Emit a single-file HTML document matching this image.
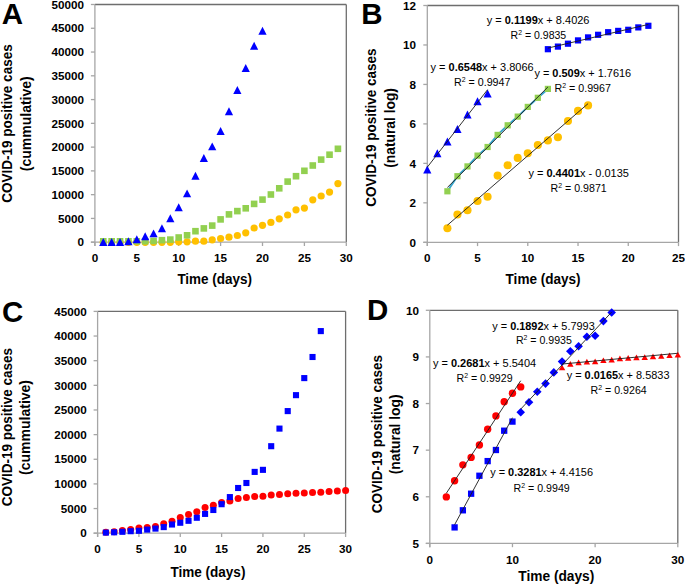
<!DOCTYPE html><html><head><meta charset="utf-8"><style>html,body{margin:0;padding:0;background:#fff;}svg{display:block;}text{font-family:"Liberation Sans", sans-serif;fill:#000;}</style></head><body>
<svg width="685" height="585" viewBox="0 0 685 585">
<rect width="685" height="585" fill="#fff"/>
<line x1="94.90" y1="4.50" x2="346.30" y2="4.50" stroke="#6e6e6e" stroke-width="1.3"/>
<line x1="346.30" y1="4.50" x2="346.30" y2="242.20" stroke="#6e6e6e" stroke-width="1.3"/>
<line x1="94.90" y1="4.50" x2="94.90" y2="246.00" stroke="#a6a6a6" stroke-width="1.3"/>
<line x1="90.90" y1="242.20" x2="346.30" y2="242.20" stroke="#a6a6a6" stroke-width="1.3"/>
<line x1="90.90" y1="242.20" x2="94.90" y2="242.20" stroke="#a6a6a6" stroke-width="1.3"/>
<line x1="90.90" y1="218.43" x2="94.90" y2="218.43" stroke="#a6a6a6" stroke-width="1.3"/>
<line x1="90.90" y1="194.66" x2="94.90" y2="194.66" stroke="#a6a6a6" stroke-width="1.3"/>
<line x1="90.90" y1="170.89" x2="94.90" y2="170.89" stroke="#a6a6a6" stroke-width="1.3"/>
<line x1="90.90" y1="147.12" x2="94.90" y2="147.12" stroke="#a6a6a6" stroke-width="1.3"/>
<line x1="90.90" y1="123.35" x2="94.90" y2="123.35" stroke="#a6a6a6" stroke-width="1.3"/>
<line x1="90.90" y1="99.58" x2="94.90" y2="99.58" stroke="#a6a6a6" stroke-width="1.3"/>
<line x1="90.90" y1="75.81" x2="94.90" y2="75.81" stroke="#a6a6a6" stroke-width="1.3"/>
<line x1="90.90" y1="52.04" x2="94.90" y2="52.04" stroke="#a6a6a6" stroke-width="1.3"/>
<line x1="90.90" y1="28.27" x2="94.90" y2="28.27" stroke="#a6a6a6" stroke-width="1.3"/>
<line x1="90.90" y1="4.50" x2="94.90" y2="4.50" stroke="#a6a6a6" stroke-width="1.3"/>
<line x1="94.90" y1="242.20" x2="94.90" y2="246.00" stroke="#a6a6a6" stroke-width="1.3"/>
<line x1="136.80" y1="242.20" x2="136.80" y2="246.00" stroke="#a6a6a6" stroke-width="1.3"/>
<line x1="178.70" y1="242.20" x2="178.70" y2="246.00" stroke="#a6a6a6" stroke-width="1.3"/>
<line x1="220.60" y1="242.20" x2="220.60" y2="246.00" stroke="#a6a6a6" stroke-width="1.3"/>
<line x1="262.50" y1="242.20" x2="262.50" y2="246.00" stroke="#a6a6a6" stroke-width="1.3"/>
<line x1="304.40" y1="242.20" x2="304.40" y2="246.00" stroke="#a6a6a6" stroke-width="1.3"/>
<line x1="346.30" y1="242.20" x2="346.30" y2="246.00" stroke="#a6a6a6" stroke-width="1.3"/>
<text x="83.90" y="246.40" font-size="10" font-weight="bold" text-anchor="end" textLength="6.50" lengthAdjust="spacingAndGlyphs">0</text>
<text x="83.90" y="222.63" font-size="10" font-weight="bold" text-anchor="end" textLength="26.00" lengthAdjust="spacingAndGlyphs">5000</text>
<text x="83.90" y="198.86" font-size="10" font-weight="bold" text-anchor="end" textLength="32.50" lengthAdjust="spacingAndGlyphs">10000</text>
<text x="83.90" y="175.09" font-size="10" font-weight="bold" text-anchor="end" textLength="32.50" lengthAdjust="spacingAndGlyphs">15000</text>
<text x="83.90" y="151.32" font-size="10" font-weight="bold" text-anchor="end" textLength="32.50" lengthAdjust="spacingAndGlyphs">20000</text>
<text x="83.90" y="127.55" font-size="10" font-weight="bold" text-anchor="end" textLength="32.50" lengthAdjust="spacingAndGlyphs">25000</text>
<text x="83.90" y="103.78" font-size="10" font-weight="bold" text-anchor="end" textLength="32.50" lengthAdjust="spacingAndGlyphs">30000</text>
<text x="83.90" y="80.01" font-size="10" font-weight="bold" text-anchor="end" textLength="32.50" lengthAdjust="spacingAndGlyphs">35000</text>
<text x="83.90" y="56.24" font-size="10" font-weight="bold" text-anchor="end" textLength="32.50" lengthAdjust="spacingAndGlyphs">40000</text>
<text x="83.90" y="32.47" font-size="10" font-weight="bold" text-anchor="end" textLength="32.50" lengthAdjust="spacingAndGlyphs">45000</text>
<text x="83.90" y="8.70" font-size="10" font-weight="bold" text-anchor="end" textLength="32.50" lengthAdjust="spacingAndGlyphs">50000</text>
<text x="94.90" y="262.20" font-size="10" font-weight="bold" text-anchor="middle" textLength="6.50" lengthAdjust="spacingAndGlyphs">0</text>
<text x="136.80" y="262.20" font-size="10" font-weight="bold" text-anchor="middle" textLength="6.50" lengthAdjust="spacingAndGlyphs">5</text>
<text x="178.70" y="262.20" font-size="10" font-weight="bold" text-anchor="middle" textLength="13.00" lengthAdjust="spacingAndGlyphs">10</text>
<text x="220.60" y="262.20" font-size="10" font-weight="bold" text-anchor="middle" textLength="13.00" lengthAdjust="spacingAndGlyphs">15</text>
<text x="262.50" y="262.20" font-size="10" font-weight="bold" text-anchor="middle" textLength="13.00" lengthAdjust="spacingAndGlyphs">20</text>
<text x="304.40" y="262.20" font-size="10" font-weight="bold" text-anchor="middle" textLength="13.00" lengthAdjust="spacingAndGlyphs">25</text>
<text x="346.30" y="262.20" font-size="10" font-weight="bold" text-anchor="middle" textLength="13.00" lengthAdjust="spacingAndGlyphs">30</text>
<text x="1.80" y="24.30" font-size="29.5" font-weight="bold" text-anchor="start">A</text>
<text transform="translate(12.30 123.50) rotate(-90)" font-size="14" font-weight="bold" text-anchor="middle" textLength="158.3" lengthAdjust="spacingAndGlyphs">COVID-19 positive cases</text>
<text transform="translate(31.00 123.75) rotate(-90)" font-size="14" font-weight="bold" text-anchor="middle" textLength="95.0" lengthAdjust="spacingAndGlyphs">(cummulative)</text>
<text x="214.70" y="283.90" font-size="14" font-weight="bold" text-anchor="middle" textLength="74.60" lengthAdjust="spacingAndGlyphs">Time (days)</text>
<circle cx="103.28" cy="242.30" r="3.60" fill="#ffc000"/>
<circle cx="111.66" cy="242.30" r="3.60" fill="#ffc000"/>
<circle cx="120.04" cy="242.30" r="3.60" fill="#ffc000"/>
<circle cx="128.42" cy="242.30" r="3.60" fill="#ffc000"/>
<circle cx="136.80" cy="242.30" r="3.60" fill="#ffc000"/>
<circle cx="145.18" cy="242.30" r="3.60" fill="#ffc000"/>
<circle cx="153.56" cy="242.30" r="3.60" fill="#ffc000"/>
<circle cx="161.94" cy="242.30" r="3.60" fill="#ffc000"/>
<circle cx="170.32" cy="242.30" r="3.60" fill="#ffc000"/>
<circle cx="178.70" cy="241.80" r="3.60" fill="#ffc000"/>
<circle cx="187.08" cy="241.80" r="3.60" fill="#ffc000"/>
<circle cx="195.46" cy="241.20" r="3.60" fill="#ffc000"/>
<circle cx="203.84" cy="241.20" r="3.60" fill="#ffc000"/>
<circle cx="212.22" cy="239.80" r="3.60" fill="#ffc000"/>
<circle cx="220.60" cy="238.50" r="3.60" fill="#ffc000"/>
<circle cx="228.98" cy="237.20" r="3.60" fill="#ffc000"/>
<circle cx="237.36" cy="235.50" r="3.60" fill="#ffc000"/>
<circle cx="245.74" cy="232.80" r="3.60" fill="#ffc000"/>
<circle cx="254.12" cy="228.00" r="3.60" fill="#ffc000"/>
<circle cx="262.50" cy="225.30" r="3.60" fill="#ffc000"/>
<circle cx="270.88" cy="222.40" r="3.60" fill="#ffc000"/>
<circle cx="279.26" cy="218.80" r="3.60" fill="#ffc000"/>
<circle cx="287.64" cy="215.00" r="3.60" fill="#ffc000"/>
<circle cx="296.02" cy="209.80" r="3.60" fill="#ffc000"/>
<circle cx="304.40" cy="208.10" r="3.60" fill="#ffc000"/>
<circle cx="312.78" cy="199.80" r="3.60" fill="#ffc000"/>
<circle cx="321.16" cy="196.00" r="3.60" fill="#ffc000"/>
<circle cx="329.54" cy="192.10" r="3.60" fill="#ffc000"/>
<circle cx="337.92" cy="183.60" r="3.60" fill="#ffc000"/>
<rect x="99.98" y="238.00" width="6.60" height="6.60" fill="#92d050"/>
<rect x="108.36" y="238.00" width="6.60" height="6.60" fill="#92d050"/>
<rect x="116.74" y="238.00" width="6.60" height="6.60" fill="#92d050"/>
<rect x="125.12" y="238.00" width="6.60" height="6.60" fill="#92d050"/>
<rect x="133.50" y="238.00" width="6.60" height="6.60" fill="#92d050"/>
<rect x="141.88" y="238.00" width="6.60" height="6.60" fill="#92d050"/>
<rect x="150.26" y="237.60" width="6.60" height="6.60" fill="#92d050"/>
<rect x="158.64" y="236.90" width="6.60" height="6.60" fill="#92d050"/>
<rect x="167.02" y="236.30" width="6.60" height="6.60" fill="#92d050"/>
<rect x="175.40" y="234.20" width="6.60" height="6.60" fill="#92d050"/>
<rect x="183.78" y="232.00" width="6.60" height="6.60" fill="#92d050"/>
<rect x="192.16" y="227.90" width="6.60" height="6.60" fill="#92d050"/>
<rect x="200.54" y="225.10" width="6.60" height="6.60" fill="#92d050"/>
<rect x="208.92" y="222.30" width="6.60" height="6.60" fill="#92d050"/>
<rect x="217.30" y="216.10" width="6.60" height="6.60" fill="#92d050"/>
<rect x="225.68" y="211.10" width="6.60" height="6.60" fill="#92d050"/>
<rect x="234.06" y="207.80" width="6.60" height="6.60" fill="#92d050"/>
<rect x="242.44" y="205.00" width="6.60" height="6.60" fill="#92d050"/>
<rect x="250.82" y="200.60" width="6.60" height="6.60" fill="#92d050"/>
<rect x="259.20" y="196.30" width="6.60" height="6.60" fill="#92d050"/>
<rect x="267.58" y="191.20" width="6.60" height="6.60" fill="#92d050"/>
<rect x="275.96" y="185.00" width="6.60" height="6.60" fill="#92d050"/>
<rect x="284.34" y="178.30" width="6.60" height="6.60" fill="#92d050"/>
<rect x="292.72" y="172.90" width="6.60" height="6.60" fill="#92d050"/>
<rect x="301.10" y="167.50" width="6.60" height="6.60" fill="#92d050"/>
<rect x="309.48" y="162.20" width="6.60" height="6.60" fill="#92d050"/>
<rect x="317.86" y="156.30" width="6.60" height="6.60" fill="#92d050"/>
<rect x="326.24" y="151.40" width="6.60" height="6.60" fill="#92d050"/>
<rect x="334.62" y="145.50" width="6.60" height="6.60" fill="#92d050"/>
<path d="M99.18 245.95L103.28 238.05L107.38 245.95Z" fill="#0000ff"/>
<path d="M107.56 245.95L111.66 238.05L115.76 245.95Z" fill="#0000ff"/>
<path d="M115.94 245.95L120.04 238.05L124.14 245.95Z" fill="#0000ff"/>
<path d="M124.32 245.15L128.42 237.25L132.52 245.15Z" fill="#0000ff"/>
<path d="M132.70 243.25L136.80 235.35L140.90 243.25Z" fill="#0000ff"/>
<path d="M141.08 240.25L145.18 232.35L149.28 240.25Z" fill="#0000ff"/>
<path d="M149.46 237.35L153.56 229.45L157.66 237.35Z" fill="#0000ff"/>
<path d="M157.84 232.15L161.94 224.25L166.04 232.15Z" fill="#0000ff"/>
<path d="M166.22 222.15L170.32 214.25L174.42 222.15Z" fill="#0000ff"/>
<path d="M174.60 211.15L178.70 203.25L182.80 211.15Z" fill="#0000ff"/>
<path d="M182.98 197.35L187.08 189.45L191.18 197.35Z" fill="#0000ff"/>
<path d="M191.36 179.75L195.46 171.85L199.56 179.75Z" fill="#0000ff"/>
<path d="M199.74 161.95L203.84 154.05L207.94 161.95Z" fill="#0000ff"/>
<path d="M208.12 150.35L212.22 142.45L216.32 150.35Z" fill="#0000ff"/>
<path d="M216.50 134.95L220.60 127.05L224.70 134.95Z" fill="#0000ff"/>
<path d="M224.88 115.25L228.98 107.35L233.08 115.25Z" fill="#0000ff"/>
<path d="M233.26 93.95L237.36 86.05L241.46 93.95Z" fill="#0000ff"/>
<path d="M241.64 71.95L245.74 64.05L249.84 71.95Z" fill="#0000ff"/>
<path d="M250.02 49.65L254.12 41.75L258.22 49.65Z" fill="#0000ff"/>
<path d="M258.40 34.75L262.50 26.85L266.60 34.75Z" fill="#0000ff"/>
<line x1="427.30" y1="5.50" x2="678.50" y2="5.50" stroke="#6e6e6e" stroke-width="1.3"/>
<line x1="678.50" y1="5.50" x2="678.50" y2="242.30" stroke="#6e6e6e" stroke-width="1.3"/>
<line x1="427.30" y1="5.50" x2="427.30" y2="246.10" stroke="#a6a6a6" stroke-width="1.3"/>
<line x1="423.30" y1="242.30" x2="678.50" y2="242.30" stroke="#a6a6a6" stroke-width="1.3"/>
<line x1="423.30" y1="242.30" x2="427.30" y2="242.30" stroke="#a6a6a6" stroke-width="1.3"/>
<line x1="423.30" y1="202.83" x2="427.30" y2="202.83" stroke="#a6a6a6" stroke-width="1.3"/>
<line x1="423.30" y1="163.37" x2="427.30" y2="163.37" stroke="#a6a6a6" stroke-width="1.3"/>
<line x1="423.30" y1="123.90" x2="427.30" y2="123.90" stroke="#a6a6a6" stroke-width="1.3"/>
<line x1="423.30" y1="84.43" x2="427.30" y2="84.43" stroke="#a6a6a6" stroke-width="1.3"/>
<line x1="423.30" y1="44.97" x2="427.30" y2="44.97" stroke="#a6a6a6" stroke-width="1.3"/>
<line x1="423.30" y1="5.50" x2="427.30" y2="5.50" stroke="#a6a6a6" stroke-width="1.3"/>
<line x1="427.30" y1="242.30" x2="427.30" y2="246.10" stroke="#a6a6a6" stroke-width="1.3"/>
<line x1="477.54" y1="242.30" x2="477.54" y2="246.10" stroke="#a6a6a6" stroke-width="1.3"/>
<line x1="527.78" y1="242.30" x2="527.78" y2="246.10" stroke="#a6a6a6" stroke-width="1.3"/>
<line x1="578.02" y1="242.30" x2="578.02" y2="246.10" stroke="#a6a6a6" stroke-width="1.3"/>
<line x1="628.26" y1="242.30" x2="628.26" y2="246.10" stroke="#a6a6a6" stroke-width="1.3"/>
<line x1="678.50" y1="242.30" x2="678.50" y2="246.10" stroke="#a6a6a6" stroke-width="1.3"/>
<text x="416.10" y="246.50" font-size="10" font-weight="bold" text-anchor="end" textLength="6.50" lengthAdjust="spacingAndGlyphs">0</text>
<text x="416.10" y="207.03" font-size="10" font-weight="bold" text-anchor="end" textLength="6.50" lengthAdjust="spacingAndGlyphs">2</text>
<text x="416.10" y="167.57" font-size="10" font-weight="bold" text-anchor="end" textLength="6.50" lengthAdjust="spacingAndGlyphs">4</text>
<text x="416.10" y="128.10" font-size="10" font-weight="bold" text-anchor="end" textLength="6.50" lengthAdjust="spacingAndGlyphs">6</text>
<text x="416.10" y="88.63" font-size="10" font-weight="bold" text-anchor="end" textLength="6.50" lengthAdjust="spacingAndGlyphs">8</text>
<text x="416.10" y="49.17" font-size="10" font-weight="bold" text-anchor="end" textLength="13.00" lengthAdjust="spacingAndGlyphs">10</text>
<text x="416.10" y="9.70" font-size="10" font-weight="bold" text-anchor="end" textLength="13.00" lengthAdjust="spacingAndGlyphs">12</text>
<text x="427.30" y="262.00" font-size="10" font-weight="bold" text-anchor="middle" textLength="6.50" lengthAdjust="spacingAndGlyphs">0</text>
<text x="477.54" y="262.00" font-size="10" font-weight="bold" text-anchor="middle" textLength="6.50" lengthAdjust="spacingAndGlyphs">5</text>
<text x="527.78" y="262.00" font-size="10" font-weight="bold" text-anchor="middle" textLength="13.00" lengthAdjust="spacingAndGlyphs">10</text>
<text x="578.02" y="262.00" font-size="10" font-weight="bold" text-anchor="middle" textLength="13.00" lengthAdjust="spacingAndGlyphs">15</text>
<text x="628.26" y="262.00" font-size="10" font-weight="bold" text-anchor="middle" textLength="13.00" lengthAdjust="spacingAndGlyphs">20</text>
<text x="678.50" y="262.00" font-size="10" font-weight="bold" text-anchor="middle" textLength="13.00" lengthAdjust="spacingAndGlyphs">25</text>
<text x="361.30" y="24.20" font-size="29.5" font-weight="bold" text-anchor="start">B</text>
<text transform="translate(376.40 127.70) rotate(-90)" font-size="14" font-weight="bold" text-anchor="middle" textLength="158.3" lengthAdjust="spacingAndGlyphs">COVID-19 positive cases</text>
<text transform="translate(394.60 127.95) rotate(-90)" font-size="14" font-weight="bold" text-anchor="middle" textLength="79.8" lengthAdjust="spacingAndGlyphs">(natural log)</text>
<text x="543.10" y="284.30" font-size="14" font-weight="bold" text-anchor="middle" textLength="75.00" lengthAdjust="spacingAndGlyphs">Time (days)</text>
<polyline points="447.40,191.30 457.44,176.20 467.49,166.40 477.54,155.60 487.59,147.00 497.64,134.90 507.68,125.30 517.73,116.60 527.78,106.90 537.83,97.80 547.88,88.90" fill="none" stroke="#3aa6cc" stroke-width="2"/>
<circle cx="447.40" cy="228.30" r="4.05" fill="#ffc000"/>
<circle cx="457.44" cy="214.50" r="4.05" fill="#ffc000"/>
<circle cx="467.49" cy="210.20" r="4.05" fill="#ffc000"/>
<circle cx="477.54" cy="201.00" r="4.05" fill="#ffc000"/>
<circle cx="487.59" cy="196.80" r="4.05" fill="#ffc000"/>
<circle cx="497.64" cy="175.60" r="4.05" fill="#ffc000"/>
<circle cx="507.68" cy="165.20" r="4.05" fill="#ffc000"/>
<circle cx="517.73" cy="157.90" r="4.05" fill="#ffc000"/>
<circle cx="527.78" cy="153.30" r="4.05" fill="#ffc000"/>
<circle cx="537.83" cy="145.00" r="4.05" fill="#ffc000"/>
<circle cx="547.88" cy="140.40" r="4.05" fill="#ffc000"/>
<circle cx="557.92" cy="137.30" r="4.05" fill="#ffc000"/>
<circle cx="567.97" cy="121.00" r="4.05" fill="#ffc000"/>
<circle cx="578.02" cy="110.90" r="4.05" fill="#ffc000"/>
<circle cx="588.07" cy="105.40" r="4.05" fill="#ffc000"/>
<rect x="444.30" y="188.20" width="6.20" height="6.20" fill="#92d050"/>
<rect x="454.34" y="173.10" width="6.20" height="6.20" fill="#92d050"/>
<rect x="464.39" y="163.30" width="6.20" height="6.20" fill="#92d050"/>
<rect x="474.44" y="152.50" width="6.20" height="6.20" fill="#92d050"/>
<rect x="484.49" y="143.90" width="6.20" height="6.20" fill="#92d050"/>
<rect x="494.54" y="131.80" width="6.20" height="6.20" fill="#92d050"/>
<rect x="504.58" y="122.20" width="6.20" height="6.20" fill="#92d050"/>
<rect x="514.63" y="113.50" width="6.20" height="6.20" fill="#92d050"/>
<rect x="524.68" y="103.80" width="6.20" height="6.20" fill="#92d050"/>
<rect x="534.73" y="94.70" width="6.20" height="6.20" fill="#92d050"/>
<rect x="544.78" y="85.80" width="6.20" height="6.20" fill="#92d050"/>
<path d="M423.20 173.60L427.30 165.60L431.40 173.60Z" fill="#0000ff"/>
<path d="M433.25 157.30L437.35 149.30L441.45 157.30Z" fill="#0000ff"/>
<path d="M443.30 145.40L447.40 137.40L451.50 145.40Z" fill="#0000ff"/>
<path d="M453.34 132.90L457.44 124.90L461.54 132.90Z" fill="#0000ff"/>
<path d="M463.39 118.50L467.49 110.50L471.59 118.50Z" fill="#0000ff"/>
<path d="M473.44 105.20L477.54 97.20L481.64 105.20Z" fill="#0000ff"/>
<path d="M483.49 97.40L487.59 89.40L491.69 97.40Z" fill="#0000ff"/>
<rect x="544.78" y="46.10" width="6.20" height="6.20" fill="#0000ff"/>
<rect x="554.82" y="43.50" width="6.20" height="6.20" fill="#0000ff"/>
<rect x="564.87" y="40.60" width="6.20" height="6.20" fill="#0000ff"/>
<rect x="574.92" y="37.30" width="6.20" height="6.20" fill="#0000ff"/>
<rect x="584.97" y="34.30" width="6.20" height="6.20" fill="#0000ff"/>
<rect x="595.02" y="31.70" width="6.20" height="6.20" fill="#0000ff"/>
<rect x="605.06" y="29.10" width="6.20" height="6.20" fill="#0000ff"/>
<rect x="615.11" y="27.80" width="6.20" height="6.20" fill="#0000ff"/>
<rect x="625.16" y="26.70" width="6.20" height="6.20" fill="#0000ff"/>
<rect x="635.21" y="24.30" width="6.20" height="6.20" fill="#0000ff"/>
<rect x="645.26" y="22.70" width="6.20" height="6.20" fill="#0000ff"/>
<line x1="427.30" y1="167.18" x2="487.59" y2="89.65" stroke="#1a1a1a" stroke-width="0.9"/>
<line x1="447.40" y1="187.45" x2="547.88" y2="87.01" stroke="#1a1a1a" stroke-width="0.9"/>
<line x1="447.40" y1="225.20" x2="588.07" y2="103.61" stroke="#1a1a1a" stroke-width="0.9"/>
<line x1="547.88" y1="48.10" x2="648.36" y2="24.44" stroke="#1a1a1a" stroke-width="0.9"/>
<text x="486.70" y="24.00" font-size="10.5" textLength="102.80" lengthAdjust="spacingAndGlyphs">y = <tspan font-weight="bold">0.1199</tspan>x + 8.4026</text>
<text x="510.60" y="38.50" font-size="10.5" textLength="55.60" lengthAdjust="spacingAndGlyphs">R<tspan font-size="6.83" dy="-4">2</tspan><tspan dy="4"> = 0.9835</tspan></text>
<text x="430.60" y="71.10" font-size="10.5" textLength="103.00" lengthAdjust="spacingAndGlyphs">y = <tspan font-weight="bold">0.6548</tspan>x + 3.8066</text>
<text x="453.90" y="85.60" font-size="10.5" textLength="56.60" lengthAdjust="spacingAndGlyphs">R<tspan font-size="6.83" dy="-4">2</tspan><tspan dy="4"> = 0.9947</tspan></text>
<text x="534.40" y="77.00" font-size="10.5" textLength="96.80" lengthAdjust="spacingAndGlyphs">y = <tspan font-weight="bold">0.509</tspan>x + 1.7616</text>
<text x="554.50" y="92.40" font-size="10.5" textLength="56.40" lengthAdjust="spacingAndGlyphs">R<tspan font-size="6.83" dy="-4">2</tspan><tspan dy="4"> = 0.9967</tspan></text>
<text x="528.40" y="177.00" font-size="10.5" textLength="100.50" lengthAdjust="spacingAndGlyphs">y = <tspan font-weight="bold">0.4401</tspan>x - 0.0135</text>
<text x="550.60" y="191.50" font-size="10.5" textLength="56.10" lengthAdjust="spacingAndGlyphs">R<tspan font-size="6.83" dy="-4">2</tspan><tspan dy="4"> = 0.9871</tspan></text>
<line x1="97.60" y1="311.40" x2="345.60" y2="311.40" stroke="#6e6e6e" stroke-width="1.3"/>
<line x1="345.60" y1="311.40" x2="345.60" y2="533.20" stroke="#6e6e6e" stroke-width="1.3"/>
<line x1="97.60" y1="311.40" x2="97.60" y2="537.00" stroke="#a6a6a6" stroke-width="1.3"/>
<line x1="93.60" y1="533.20" x2="345.60" y2="533.20" stroke="#a6a6a6" stroke-width="1.3"/>
<line x1="93.60" y1="533.20" x2="97.60" y2="533.20" stroke="#a6a6a6" stroke-width="1.3"/>
<line x1="93.60" y1="508.56" x2="97.60" y2="508.56" stroke="#a6a6a6" stroke-width="1.3"/>
<line x1="93.60" y1="483.91" x2="97.60" y2="483.91" stroke="#a6a6a6" stroke-width="1.3"/>
<line x1="93.60" y1="459.27" x2="97.60" y2="459.27" stroke="#a6a6a6" stroke-width="1.3"/>
<line x1="93.60" y1="434.62" x2="97.60" y2="434.62" stroke="#a6a6a6" stroke-width="1.3"/>
<line x1="93.60" y1="409.98" x2="97.60" y2="409.98" stroke="#a6a6a6" stroke-width="1.3"/>
<line x1="93.60" y1="385.33" x2="97.60" y2="385.33" stroke="#a6a6a6" stroke-width="1.3"/>
<line x1="93.60" y1="360.69" x2="97.60" y2="360.69" stroke="#a6a6a6" stroke-width="1.3"/>
<line x1="93.60" y1="336.04" x2="97.60" y2="336.04" stroke="#a6a6a6" stroke-width="1.3"/>
<line x1="93.60" y1="311.40" x2="97.60" y2="311.40" stroke="#a6a6a6" stroke-width="1.3"/>
<line x1="97.60" y1="533.20" x2="97.60" y2="537.00" stroke="#a6a6a6" stroke-width="1.3"/>
<line x1="138.93" y1="533.20" x2="138.93" y2="537.00" stroke="#a6a6a6" stroke-width="1.3"/>
<line x1="180.27" y1="533.20" x2="180.27" y2="537.00" stroke="#a6a6a6" stroke-width="1.3"/>
<line x1="221.60" y1="533.20" x2="221.60" y2="537.00" stroke="#a6a6a6" stroke-width="1.3"/>
<line x1="262.93" y1="533.20" x2="262.93" y2="537.00" stroke="#a6a6a6" stroke-width="1.3"/>
<line x1="304.27" y1="533.20" x2="304.27" y2="537.00" stroke="#a6a6a6" stroke-width="1.3"/>
<line x1="345.60" y1="533.20" x2="345.60" y2="537.00" stroke="#a6a6a6" stroke-width="1.3"/>
<text x="86.80" y="537.40" font-size="10" font-weight="bold" text-anchor="end" textLength="6.50" lengthAdjust="spacingAndGlyphs">0</text>
<text x="86.80" y="512.76" font-size="10" font-weight="bold" text-anchor="end" textLength="26.00" lengthAdjust="spacingAndGlyphs">5000</text>
<text x="86.80" y="488.11" font-size="10" font-weight="bold" text-anchor="end" textLength="32.50" lengthAdjust="spacingAndGlyphs">10000</text>
<text x="86.80" y="463.47" font-size="10" font-weight="bold" text-anchor="end" textLength="32.50" lengthAdjust="spacingAndGlyphs">15000</text>
<text x="86.80" y="438.82" font-size="10" font-weight="bold" text-anchor="end" textLength="32.50" lengthAdjust="spacingAndGlyphs">20000</text>
<text x="86.80" y="414.18" font-size="10" font-weight="bold" text-anchor="end" textLength="32.50" lengthAdjust="spacingAndGlyphs">25000</text>
<text x="86.80" y="389.53" font-size="10" font-weight="bold" text-anchor="end" textLength="32.50" lengthAdjust="spacingAndGlyphs">30000</text>
<text x="86.80" y="364.89" font-size="10" font-weight="bold" text-anchor="end" textLength="32.50" lengthAdjust="spacingAndGlyphs">35000</text>
<text x="86.80" y="340.24" font-size="10" font-weight="bold" text-anchor="end" textLength="32.50" lengthAdjust="spacingAndGlyphs">40000</text>
<text x="86.80" y="315.60" font-size="10" font-weight="bold" text-anchor="end" textLength="32.50" lengthAdjust="spacingAndGlyphs">45000</text>
<text x="97.60" y="553.30" font-size="10" font-weight="bold" text-anchor="middle" textLength="6.50" lengthAdjust="spacingAndGlyphs">0</text>
<text x="138.93" y="553.30" font-size="10" font-weight="bold" text-anchor="middle" textLength="6.50" lengthAdjust="spacingAndGlyphs">5</text>
<text x="180.27" y="553.30" font-size="10" font-weight="bold" text-anchor="middle" textLength="13.00" lengthAdjust="spacingAndGlyphs">10</text>
<text x="221.60" y="553.30" font-size="10" font-weight="bold" text-anchor="middle" textLength="13.00" lengthAdjust="spacingAndGlyphs">15</text>
<text x="262.93" y="553.30" font-size="10" font-weight="bold" text-anchor="middle" textLength="13.00" lengthAdjust="spacingAndGlyphs">20</text>
<text x="304.27" y="553.30" font-size="10" font-weight="bold" text-anchor="middle" textLength="13.00" lengthAdjust="spacingAndGlyphs">25</text>
<text x="345.60" y="553.30" font-size="10" font-weight="bold" text-anchor="middle" textLength="13.00" lengthAdjust="spacingAndGlyphs">30</text>
<text x="1.90" y="322.40" font-size="29.5" font-weight="bold" text-anchor="start">C</text>
<text transform="translate(11.90 427.15) rotate(-90)" font-size="14" font-weight="bold" text-anchor="middle" textLength="158.3" lengthAdjust="spacingAndGlyphs">COVID-19 positive cases</text>
<text transform="translate(30.20 427.45) rotate(-90)" font-size="14" font-weight="bold" text-anchor="middle" textLength="95.0" lengthAdjust="spacingAndGlyphs">(cummulative)</text>
<text x="207.90" y="577.40" font-size="14" font-weight="bold" text-anchor="middle" textLength="75.00" lengthAdjust="spacingAndGlyphs">Time (days)</text>
<circle cx="105.87" cy="532.30" r="3.50" fill="#ff0000"/>
<circle cx="114.13" cy="531.80" r="3.50" fill="#ff0000"/>
<circle cx="122.40" cy="530.40" r="3.50" fill="#ff0000"/>
<circle cx="130.67" cy="529.50" r="3.50" fill="#ff0000"/>
<circle cx="138.93" cy="528.00" r="3.50" fill="#ff0000"/>
<circle cx="147.20" cy="527.40" r="3.50" fill="#ff0000"/>
<circle cx="155.47" cy="526.40" r="3.50" fill="#ff0000"/>
<circle cx="163.73" cy="523.85" r="3.50" fill="#ff0000"/>
<circle cx="172.00" cy="521.25" r="3.50" fill="#ff0000"/>
<circle cx="180.27" cy="517.45" r="3.50" fill="#ff0000"/>
<circle cx="188.53" cy="514.45" r="3.50" fill="#ff0000"/>
<circle cx="196.80" cy="511.75" r="3.50" fill="#ff0000"/>
<circle cx="205.07" cy="507.40" r="3.50" fill="#ff0000"/>
<circle cx="213.33" cy="505.20" r="3.50" fill="#ff0000"/>
<circle cx="221.60" cy="502.60" r="3.50" fill="#ff0000"/>
<circle cx="229.87" cy="500.90" r="3.50" fill="#ff0000"/>
<circle cx="238.13" cy="498.60" r="3.50" fill="#ff0000"/>
<circle cx="246.40" cy="497.40" r="3.50" fill="#ff0000"/>
<circle cx="254.67" cy="496.40" r="3.50" fill="#ff0000"/>
<circle cx="262.93" cy="496.20" r="3.50" fill="#ff0000"/>
<circle cx="271.20" cy="495.00" r="3.50" fill="#ff0000"/>
<circle cx="279.47" cy="494.40" r="3.50" fill="#ff0000"/>
<circle cx="287.73" cy="493.85" r="3.50" fill="#ff0000"/>
<circle cx="296.00" cy="493.30" r="3.50" fill="#ff0000"/>
<circle cx="304.27" cy="493.00" r="3.50" fill="#ff0000"/>
<circle cx="312.53" cy="492.50" r="3.50" fill="#ff0000"/>
<circle cx="320.80" cy="492.30" r="3.50" fill="#ff0000"/>
<circle cx="329.07" cy="491.50" r="3.50" fill="#ff0000"/>
<circle cx="337.33" cy="490.90" r="3.50" fill="#ff0000"/>
<circle cx="345.60" cy="490.50" r="3.50" fill="#ff0000"/>
<rect x="102.82" y="529.55" width="6.10" height="6.10" fill="#0000ff"/>
<rect x="111.08" y="529.25" width="6.10" height="6.10" fill="#0000ff"/>
<rect x="119.35" y="528.75" width="6.10" height="6.10" fill="#0000ff"/>
<rect x="127.62" y="528.15" width="6.10" height="6.10" fill="#0000ff"/>
<rect x="135.88" y="527.75" width="6.10" height="6.10" fill="#0000ff"/>
<rect x="144.15" y="526.55" width="6.10" height="6.10" fill="#0000ff"/>
<rect x="152.42" y="525.55" width="6.10" height="6.10" fill="#0000ff"/>
<rect x="160.68" y="524.05" width="6.10" height="6.10" fill="#0000ff"/>
<rect x="168.95" y="521.45" width="6.10" height="6.10" fill="#0000ff"/>
<rect x="177.22" y="519.70" width="6.10" height="6.10" fill="#0000ff"/>
<rect x="185.48" y="517.75" width="6.10" height="6.10" fill="#0000ff"/>
<rect x="193.75" y="514.70" width="6.10" height="6.10" fill="#0000ff"/>
<rect x="202.02" y="510.85" width="6.10" height="6.10" fill="#0000ff"/>
<rect x="210.28" y="506.95" width="6.10" height="6.10" fill="#0000ff"/>
<rect x="218.55" y="501.15" width="6.10" height="6.10" fill="#0000ff"/>
<rect x="226.82" y="494.05" width="6.10" height="6.10" fill="#0000ff"/>
<rect x="235.08" y="484.95" width="6.10" height="6.10" fill="#0000ff"/>
<rect x="243.35" y="479.95" width="6.10" height="6.10" fill="#0000ff"/>
<rect x="251.62" y="468.85" width="6.10" height="6.10" fill="#0000ff"/>
<rect x="259.88" y="466.80" width="6.10" height="6.10" fill="#0000ff"/>
<rect x="268.15" y="443.15" width="6.10" height="6.10" fill="#0000ff"/>
<rect x="276.42" y="425.55" width="6.10" height="6.10" fill="#0000ff"/>
<rect x="284.68" y="408.05" width="6.10" height="6.10" fill="#0000ff"/>
<rect x="292.95" y="392.10" width="6.10" height="6.10" fill="#0000ff"/>
<rect x="301.22" y="375.05" width="6.10" height="6.10" fill="#0000ff"/>
<rect x="309.48" y="353.95" width="6.10" height="6.10" fill="#0000ff"/>
<rect x="317.75" y="328.05" width="6.10" height="6.10" fill="#0000ff"/>
<line x1="429.80" y1="310.30" x2="677.80" y2="310.30" stroke="#6e6e6e" stroke-width="1.3"/>
<line x1="677.80" y1="310.30" x2="677.80" y2="543.40" stroke="#6e6e6e" stroke-width="1.3"/>
<line x1="429.80" y1="310.30" x2="429.80" y2="547.20" stroke="#a6a6a6" stroke-width="1.3"/>
<line x1="425.80" y1="543.40" x2="677.80" y2="543.40" stroke="#a6a6a6" stroke-width="1.3"/>
<line x1="425.80" y1="543.40" x2="429.80" y2="543.40" stroke="#a6a6a6" stroke-width="1.3"/>
<line x1="425.80" y1="496.78" x2="429.80" y2="496.78" stroke="#a6a6a6" stroke-width="1.3"/>
<line x1="425.80" y1="450.16" x2="429.80" y2="450.16" stroke="#a6a6a6" stroke-width="1.3"/>
<line x1="425.80" y1="403.54" x2="429.80" y2="403.54" stroke="#a6a6a6" stroke-width="1.3"/>
<line x1="425.80" y1="356.92" x2="429.80" y2="356.92" stroke="#a6a6a6" stroke-width="1.3"/>
<line x1="425.80" y1="310.30" x2="429.80" y2="310.30" stroke="#a6a6a6" stroke-width="1.3"/>
<line x1="429.80" y1="543.40" x2="429.80" y2="547.20" stroke="#a6a6a6" stroke-width="1.3"/>
<line x1="512.47" y1="543.40" x2="512.47" y2="547.20" stroke="#a6a6a6" stroke-width="1.3"/>
<line x1="595.13" y1="543.40" x2="595.13" y2="547.20" stroke="#a6a6a6" stroke-width="1.3"/>
<line x1="677.80" y1="543.40" x2="677.80" y2="547.20" stroke="#a6a6a6" stroke-width="1.3"/>
<text x="418.90" y="547.60" font-size="10" font-weight="bold" text-anchor="end" textLength="6.50" lengthAdjust="spacingAndGlyphs">5</text>
<text x="418.90" y="500.98" font-size="10" font-weight="bold" text-anchor="end" textLength="6.50" lengthAdjust="spacingAndGlyphs">6</text>
<text x="418.90" y="454.36" font-size="10" font-weight="bold" text-anchor="end" textLength="6.50" lengthAdjust="spacingAndGlyphs">7</text>
<text x="418.90" y="407.74" font-size="10" font-weight="bold" text-anchor="end" textLength="6.50" lengthAdjust="spacingAndGlyphs">8</text>
<text x="418.90" y="361.12" font-size="10" font-weight="bold" text-anchor="end" textLength="6.50" lengthAdjust="spacingAndGlyphs">9</text>
<text x="418.90" y="314.50" font-size="10" font-weight="bold" text-anchor="end" textLength="13.00" lengthAdjust="spacingAndGlyphs">10</text>
<text x="429.80" y="563.60" font-size="10" font-weight="bold" text-anchor="middle" textLength="6.50" lengthAdjust="spacingAndGlyphs">0</text>
<text x="512.47" y="563.60" font-size="10" font-weight="bold" text-anchor="middle" textLength="13.00" lengthAdjust="spacingAndGlyphs">10</text>
<text x="595.13" y="563.60" font-size="10" font-weight="bold" text-anchor="middle" textLength="13.00" lengthAdjust="spacingAndGlyphs">20</text>
<text x="677.80" y="563.60" font-size="10" font-weight="bold" text-anchor="middle" textLength="13.00" lengthAdjust="spacingAndGlyphs">30</text>
<text x="367.00" y="320.30" font-size="29.5" font-weight="bold" text-anchor="start">D</text>
<text transform="translate(381.80 434.10) rotate(-90)" font-size="14" font-weight="bold" text-anchor="middle" textLength="158.3" lengthAdjust="spacingAndGlyphs">COVID-19 positive cases</text>
<text transform="translate(400.30 434.35) rotate(-90)" font-size="14" font-weight="bold" text-anchor="middle" textLength="79.8" lengthAdjust="spacingAndGlyphs">(natural log)</text>
<text x="556.30" y="580.90" font-size="14" font-weight="bold" text-anchor="middle" textLength="76.00" lengthAdjust="spacingAndGlyphs">Time (days)</text>
<circle cx="446.33" cy="496.90" r="3.70" fill="#ff0000"/>
<circle cx="454.60" cy="480.70" r="3.70" fill="#ff0000"/>
<circle cx="462.87" cy="464.85" r="3.70" fill="#ff0000"/>
<circle cx="471.13" cy="457.40" r="3.70" fill="#ff0000"/>
<circle cx="479.40" cy="445.00" r="3.70" fill="#ff0000"/>
<circle cx="487.67" cy="429.20" r="3.70" fill="#ff0000"/>
<circle cx="495.93" cy="415.90" r="3.70" fill="#ff0000"/>
<circle cx="504.20" cy="401.80" r="3.70" fill="#ff0000"/>
<circle cx="512.47" cy="393.30" r="3.70" fill="#ff0000"/>
<circle cx="520.73" cy="386.90" r="3.70" fill="#ff0000"/>
<rect x="451.45" y="524.25" width="6.30" height="6.30" fill="#0000ff"/>
<rect x="459.72" y="507.15" width="6.30" height="6.30" fill="#0000ff"/>
<rect x="467.98" y="490.55" width="6.30" height="6.30" fill="#0000ff"/>
<rect x="476.25" y="472.60" width="6.30" height="6.30" fill="#0000ff"/>
<rect x="484.52" y="457.95" width="6.30" height="6.30" fill="#0000ff"/>
<rect x="492.78" y="446.85" width="6.30" height="6.30" fill="#0000ff"/>
<rect x="501.05" y="427.55" width="6.30" height="6.30" fill="#0000ff"/>
<rect x="509.32" y="418.45" width="6.30" height="6.30" fill="#0000ff"/>
<path d="M558.87 370.30L562.07 364.70L565.27 370.30Z" fill="#ff0000"/>
<path d="M567.13 366.70L570.33 361.10L573.53 366.70Z" fill="#ff0000"/>
<path d="M575.40 365.20L578.60 359.60L581.80 365.20Z" fill="#ff0000"/>
<path d="M583.67 364.40L586.87 358.80L590.07 364.40Z" fill="#ff0000"/>
<path d="M591.93 364.20L595.13 358.60L598.33 364.20Z" fill="#ff0000"/>
<path d="M600.20 363.00L603.40 357.40L606.60 363.00Z" fill="#ff0000"/>
<path d="M608.47 362.40L611.67 356.80L614.87 362.40Z" fill="#ff0000"/>
<path d="M616.73 361.20L619.93 355.60L623.13 361.20Z" fill="#ff0000"/>
<path d="M625.00 360.70L628.20 355.10L631.40 360.70Z" fill="#ff0000"/>
<path d="M633.27 360.20L636.47 354.60L639.67 360.20Z" fill="#ff0000"/>
<path d="M641.53 359.90L644.73 354.30L647.93 359.90Z" fill="#ff0000"/>
<path d="M649.80 359.20L653.00 353.60L656.20 359.20Z" fill="#ff0000"/>
<path d="M658.07 358.80L661.27 353.20L664.47 358.80Z" fill="#ff0000"/>
<path d="M666.33 358.00L669.53 352.40L672.73 358.00Z" fill="#ff0000"/>
<path d="M674.60 357.40L677.80 351.80L681.00 357.40Z" fill="#ff0000"/>
<path d="M520.73 408.00L525.03 412.30L520.73 416.60L516.43 412.30Z" fill="#0000ff"/>
<path d="M529.00 397.90L533.30 402.20L529.00 406.50L524.70 402.20Z" fill="#0000ff"/>
<path d="M537.27 387.50L541.57 391.80L537.27 396.10L532.97 391.80Z" fill="#0000ff"/>
<path d="M545.53 379.30L549.83 383.60L545.53 387.90L541.23 383.60Z" fill="#0000ff"/>
<path d="M553.80 368.10L558.10 372.40L553.80 376.70L549.50 372.40Z" fill="#0000ff"/>
<path d="M562.07 357.30L566.37 361.60L562.07 365.90L557.77 361.60Z" fill="#0000ff"/>
<path d="M570.33 346.90L574.63 351.20L570.33 355.50L566.03 351.20Z" fill="#0000ff"/>
<path d="M578.60 342.00L582.90 346.30L578.60 350.60L574.30 346.30Z" fill="#0000ff"/>
<path d="M586.87 332.50L591.17 336.80L586.87 341.10L582.57 336.80Z" fill="#0000ff"/>
<path d="M595.13 331.50L599.43 335.80L595.13 340.10L590.83 335.80Z" fill="#0000ff"/>
<path d="M603.40 316.80L607.70 321.10L603.40 325.40L599.10 321.10Z" fill="#0000ff"/>
<path d="M611.67 308.20L615.97 312.50L611.67 316.80L607.37 312.50Z" fill="#0000ff"/>
<line x1="446.33" y1="493.21" x2="520.73" y2="380.72" stroke="#1a1a1a" stroke-width="0.9"/>
<line x1="454.60" y1="524.76" x2="512.47" y2="417.68" stroke="#1a1a1a" stroke-width="0.9"/>
<line x1="520.73" y1="409.11" x2="611.67" y2="312.09" stroke="#1a1a1a" stroke-width="0.9"/>
<line x1="562.07" y1="364.04" x2="677.80" y2="353.27" stroke="#1a1a1a" stroke-width="0.9"/>
<text x="492.30" y="329.90" font-size="10.5" textLength="102.40" lengthAdjust="spacingAndGlyphs">y = <tspan font-weight="bold">0.1892</tspan>x + 5.7993</text>
<text x="515.90" y="344.20" font-size="10.5" textLength="56.00" lengthAdjust="spacingAndGlyphs">R<tspan font-size="6.83" dy="-4">2</tspan><tspan dy="4"> = 0.9935</tspan></text>
<text x="432.90" y="367.30" font-size="10.5" textLength="103.30" lengthAdjust="spacingAndGlyphs">y = <tspan font-weight="bold">0.2681</tspan>x + 5.5404</text>
<text x="456.50" y="382.10" font-size="10.5" textLength="56.10" lengthAdjust="spacingAndGlyphs">R<tspan font-size="6.83" dy="-4">2</tspan><tspan dy="4"> = 0.9929</tspan></text>
<text x="566.70" y="378.70" font-size="10.5" textLength="102.80" lengthAdjust="spacingAndGlyphs">y = <tspan font-weight="bold">0.0165</tspan>x + 8.5833</text>
<text x="590.60" y="393.50" font-size="10.5" textLength="56.10" lengthAdjust="spacingAndGlyphs">R<tspan font-size="6.83" dy="-4">2</tspan><tspan dy="4"> = 0.9264</tspan></text>
<text x="490.20" y="476.10" font-size="10.5" textLength="102.80" lengthAdjust="spacingAndGlyphs">y = <tspan font-weight="bold">0.3281</tspan>x + 4.4156</text>
<text x="513.60" y="491.50" font-size="10.5" textLength="56.10" lengthAdjust="spacingAndGlyphs">R<tspan font-size="6.83" dy="-4">2</tspan><tspan dy="4"> = 0.9949</tspan></text>
</svg></body></html>
